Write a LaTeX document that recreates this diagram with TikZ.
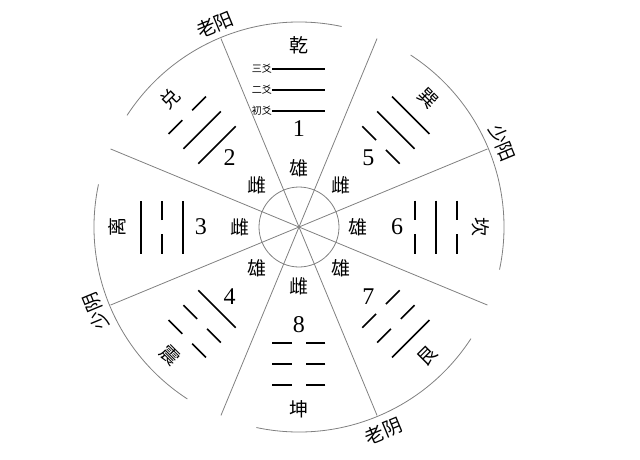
\documentclass[tikz,border=0pt]{standalone}
\usepackage{fontspec}
\setmainfont{Liberation Serif}
\newfontfamily\cjk{Noto Sans CJK SC}

\begin{document}
\begin{tikzpicture}[x=1pt,y=1pt,
    rim/.style={draw=black!50,line width=0.8pt},
    yao/.style={line width=1.6pt},
    yang/.style={},
    yin/.style={dash pattern=on 19.5pt off 14pt},
    guaname/.style={font=\cjk\fontsize{19}{19}\selectfont,inner sep=0pt},
    num/.style={font=\fontsize{24}{24}\selectfont,inner sep=0pt},
    yaoname/.style={font=\cjk\fontsize{10}{10}\selectfont,inner sep=0pt,anchor=east}]
    \useasboundingbox (-299,-232) rectangle (341,227);
    \draw[rim] (0,0) circle[radius=40];
    \foreach \a in {22.5,67.5,...,337.5}
      \draw[rim] (0,0) to (\a:204);
    \foreach \c in {112.5,22.5,-67.5,202.5}
      \draw[rim] ({\c-34.5}:205) arc[start angle=\c-34.5,end angle=\c+34.5,radius=205];
    \foreach \a/\n/\gua/\rot/\ba/\bb/\bc/\sex in {90/1/乾/0/yang/yang/yang/雄,
        135/2/兑/45/yang/yang/yin/雌, 180/3/离/90/yang/yin/yang/雌,
        225/4/震/-45/yang/yin/yin/雄, 270/8/坤/0/yin/yin/yin/雌,
        315/7/艮/45/yin/yin/yang/雄, 0/6/坎/-90/yin/yang/yin/雄,
        45/5/巽/-45/yin/yang/yang/雌}
    {
      \begin{scope}[rotate=\a-90]
        \foreach \b/\r in {\ba/116,\bb/137,\bc/158}
          \draw[yao,\b] (-26.5,\r) -- (26.5,\r);
      \end{scope}
      \node[guaname,rotate=\rot] (gua\n) at (\a:182) {\gua};
      \node[num] (num\n) at (\a:98) {\n};
      \node[guaname] (sex\n) at (\a:59) {\sex};
    }
    \node[yaoname] (yao3) at (-27,158) {三爻};
    \node[yaoname] (yao2) at (-27,137) {二爻};
    \node[yaoname] (yao1) at (-27,116) {初爻};
    \node[guaname,rotate=22.5] (laoyang) at (112.5:219) {老阳};
    \node[guaname,rotate=-67.5] (shaoyang) at (22.5:220) {少阳};
    \node[guaname,rotate=22.5] (laoyin) at (-67.5:221) {老阴};
    \node[guaname,rotate=112.5] (shaoyin) at (202.5:220) {少阴};
  \end{tikzpicture}
\end{document}
